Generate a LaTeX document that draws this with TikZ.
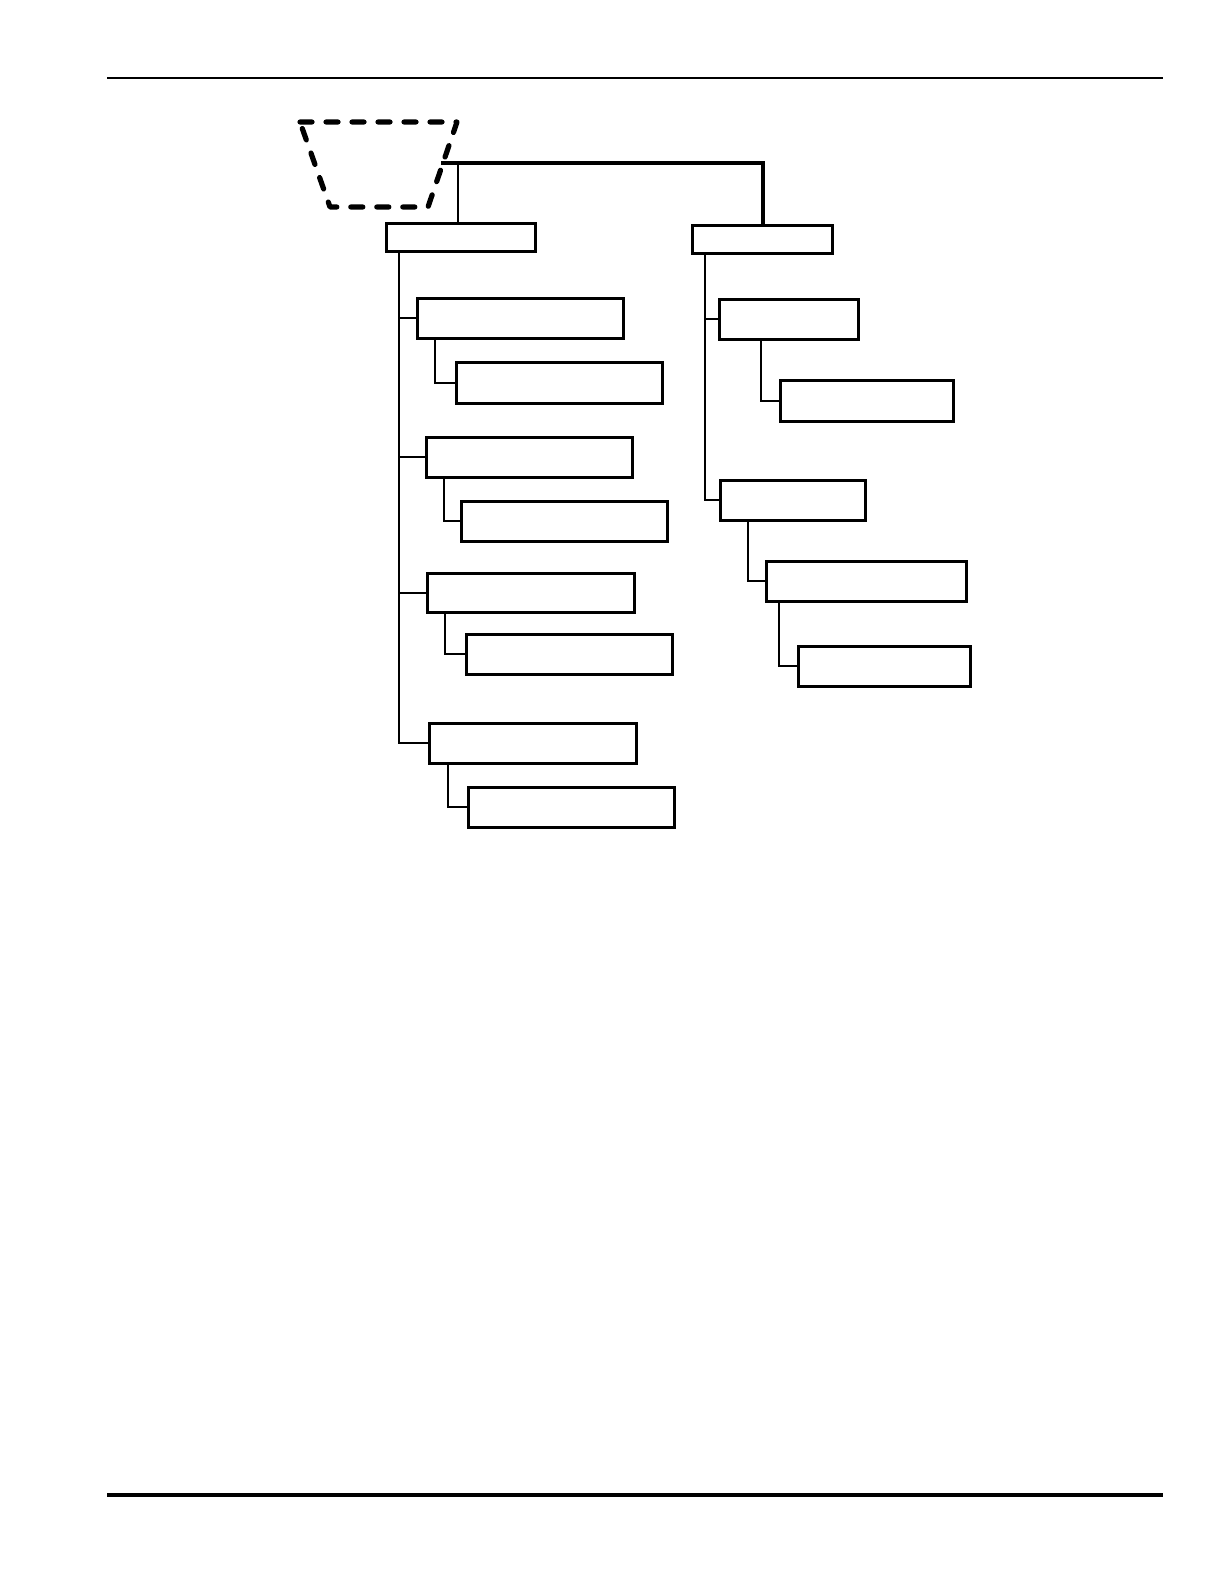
\documentclass[tikz,border=0pt]{standalone}
\usetikzlibrary{fit}
\begin{document}
\begin{tikzpicture}[x=0.5pt,y=-0.5pt,
  box/.style={draw,line width=1.5pt,inner sep=0pt,rectangle},
  conn/.style={line width=1pt},
  bar/.style={line width=1.6pt},
  dashbox/.style={line width=2.6pt,dash pattern=on 6pt off 7pt,line cap=round,line join=round}]
\useasboundingbox (0,0) rectangle (1224,1584);
% page rules
\coordinate (r1a) at (107,78); \coordinate (r1b) at (1163,78);
\coordinate (r2a) at (107,1495); \coordinate (r2b) at (1163,1495);
\draw[line width=1pt] (r1a) -- (r1b);
\draw[line width=2pt] (r2a) -- (r2b);
% dashed trapezoid
\coordinate (T1) at (300,122); \coordinate (T2) at (457,122);
\coordinate (T3) at (428,207); \coordinate (T4) at (330,207);
\draw[dashbox] (T1) -- (T2) -- (T3) -- (T4) -- cycle;
% boxes
\node[box,fit={(386,223) (535,251)}] (A) {};
\node[box,fit={(692,225) (832,253)}] (B) {};
\node[box,fit={(417,298) (623,338)}] (L1) {};
\node[box,fit={(456,362) (662,403)}] (L1a) {};
\node[box,fit={(426,437) (632,477)}] (L2) {};
\node[box,fit={(461,501) (667,541)}] (L2a) {};
\node[box,fit={(427,573) (634,612)}] (L3) {};
\node[box,fit={(466,634) (672,674)}] (L3a) {};
\node[box,fit={(429,723) (636,763)}] (L4) {};
\node[box,fit={(468,787) (674,827)}] (L4a) {};
\node[box,fit={(719,299) (858,339)}] (R1) {};
\node[box,fit={(780,380) (953,421)}] (R1a) {};
\node[box,fit={(720,480) (865,520)}] (R2) {};
\node[box,fit={(766,561) (966,601)}] (R2a) {};
\node[box,fit={(798,646) (970,686)}] (R2b) {};
% top connectors
\coordinate (J) at (441,163);
\coordinate (JA) at (458,163);
\coordinate (JB) at (763,163);
\draw[bar] (J) -- (JB) -- (JB |- B.north);
\draw[conn] (JA) -- (JA |- A.north);
% left spine
\coordinate (sL) at (399,0);
\foreach \n in {L1,L2,L3,L4}{\draw[conn] (A.south -| sL) |- (\n.west);}
\coordinate (xL1) at (435,0);
\coordinate (xL2) at (444,0);
\coordinate (xL3) at (445,0);
\coordinate (xL4) at (448,0);
\draw[conn] (L1.south -| xL1) |- (L1a.west);
\draw[conn] (L2.south -| xL2) |- (L2a.west);
\draw[conn] (L3.south -| xL3) |- (L3a.west);
\draw[conn] (L4.south -| xL4) |- (L4a.west);
% right spine
\coordinate (sR) at (705,0);
\draw[conn] (B.south -| sR) |- (R1.west);
\draw[conn] (B.south -| sR) |- (R2.west);
\coordinate (xR1) at (761,0);
\coordinate (xR2) at (748,0);
\coordinate (xR3) at (779,0);
\draw[conn] (R1.south -| xR1) |- (R1a.west);
\draw[conn] (R2.south -| xR2) |- (R2a.west);
\draw[conn] (R2a.south -| xR3) |- (R2b.west);
\end{tikzpicture}
\end{document}
